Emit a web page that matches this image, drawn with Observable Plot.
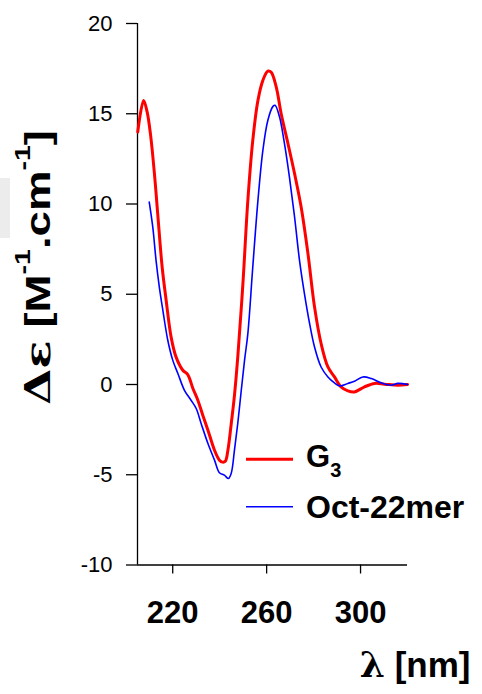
<!DOCTYPE html>
<html><head><meta charset="utf-8">
<script src="https://cdn.jsdelivr.net/npm/d3@7"></script>
<script src="https://cdn.jsdelivr.net/npm/@observablehq/plot@0.6"></script>
<style>body{margin:0;background:#fff} svg{display:block}</style>
</head><body><div id="chart"></div>
<script>
const seriesNames = ["G3", "Oct-22mer"];
const seriesColors = ["#ff0000", "#0000ff"];
const xTicks = [220, 260, 300];
const yTicks = [-10, -5, 0, 5, 10, 15, 20];

const g3Wavelength = [205.1,207.6,209.1,210.5,212.2,213.6,215.5,217.2,219.3,221.4,224.3,226.4,228.6,230.7,232.8,235.0,237.8,239.9,241.2,242.4,243.5,244.9,246.3,247.7,249.9,252.0,254.1,256.3,258.4,260.5,261.9,264.1,266.2,269.1,271.9,274.7,277.6,280.4,283.2,286.1,288.9,291.7,294.6,297.4,301.7,306.0,310.2,315.9,320.0];
const g3Delta = [13.99,15.74,15.1,13.9,11.7,9.47,6.51,4.67,2.64,1.53,0.79,0.55,-0.22,-0.87,-1.7,-2.53,-3.64,-4.19,-4.3,-4.25,-3.64,-2.2,-0.6,1.5,5.59,10.2,13.53,15.74,16.85,17.36,17.31,16.48,15.0,13.34,11.68,9.83,7.25,4.30,2.27,0.97,0.42,-0.13,-0.35,-0.41,-0.13,0.06,0.02,-0.04,0.0];

const octWavelength = [210.0,211.5,212.9,214.3,215.8,217.9,220.0,222.2,225.0,227.8,230.0,232.1,235.0,237.8,239.9,242.0,243.7,244.9,246.3,247.7,249.2,250.6,252.0,254.1,256.3,258.4,260.5,262.7,263.6,265.5,267.6,269.7,271.9,274.0,276.1,278.3,280.4,283.2,286.1,288.9,291.0,294.6,297.4,301.0,304.6,308.8,313.1,315.9,320.0];
const octDelta = [10.11,8.73,6.88,5.40,4.11,2.45,1.35,0.61,-0.32,-0.87,-1.33,-2.16,-3.27,-4.19,-4.89,-5.02,-5.21,-4.93,-3.64,-2.16,-0.32,1.35,2.82,6.51,10.2,12.97,14.63,15.41,15.47,14.82,13.34,11.5,9.28,6.88,5.04,3.38,2.08,0.97,0.42,0.09,-0.08,0.06,0.18,0.42,0.33,0.09,-0.04,0.06,0.0];

const g3Data = g3Wavelength.map((w, i) => ({series: seriesNames[0], wl: w, de: g3Delta[i]}));
const octData = octWavelength.map((w, i) => ({series: seriesNames[1], wl: w, de: octDelta[i]}));

const FONT = "'Liberation Sans', Arial, Helvetica, sans-serif";
const GREEK = "'DejaVu Serif', 'Liberation Serif', serif";

const svgNode = Plot.plot({
  width: 482, height: 694,
  marginLeft: 137, marginRight: 75, marginTop: 23, marginBottom: 129.5,
  style: {fontFamily: FONT, background: "#fff", overflow: "visible", color: "#000"},
  x: {domain: [205, 320], label: null},
  y: {domain: [-10, 20], label: null},
  color: {domain: seriesNames, range: seriesColors},
  marks: [
    Plot.axisY({ticks: yTicks, tickSize: 11, tickPadding: 14, fontSize: 22, tickFormat: d => String(d), label: null, strokeWidth: 1.3}),
    Plot.axisX({ticks: xTicks, tickSize: 9, tickPadding: 26.5, fontSize: 31, fontWeight: "bold", tickFormat: d => String(d), label: null, strokeWidth: 1.3}),
    Plot.ruleX([205], {strokeWidth: 1.3}),
    Plot.ruleY([-10], {strokeWidth: 1.3}),
    Plot.line(g3Data, {x: "wl", y: "de", stroke: "series", strokeWidth: 3, curve: "catmull-rom"}),
    Plot.line(octData, {x: "wl", y: "de", stroke: "series", strokeWidth: 1.6, curve: "catmull-rom"})
  ]
});
document.getElementById("chart").appendChild(svgNode);

const svg = d3.select(svgNode);

// faint grey artifact at the left edge
svg.insert("rect", ":first-child").attr("x", 0).attr("y", 178).attr("width", 10).attr("height", 60).attr("fill", "#ececec");

// Y label
const yl = svg.append("text")
  .attr("transform", "translate(50,267.5) rotate(-90)")
  .attr("text-anchor", "middle")
  .attr("font-family", FONT).attr("font-weight", "bold").attr("font-size", 35)
  .attr("textLength", 275).attr("lengthAdjust", "spacingAndGlyphs");
yl.append("tspan").attr("font-family", GREEK).attr("font-style", "normal").attr("font-size", 36).text("Δε");
yl.append("tspan").text(" [M");
yl.append("tspan").attr("dy", -20).attr("font-size", 22).text("-1");
yl.append("tspan").attr("dy", 20).text(".cm");
yl.append("tspan").attr("dy", -20).attr("font-size", 22).text("-1");
yl.append("tspan").attr("dy", 20).text("]");

// X label
const xl = svg.append("text")
  .attr("x", 470.5).attr("y", 677).attr("text-anchor", "end")
  .attr("font-family", FONT).attr("font-weight", "bold").attr("font-size", 35);
xl.append("tspan").attr("font-family", GREEK).attr("font-size", 36).text("λ");
xl.append("tspan").text(" [nm]");

// Legend
const legendY = [459.3, 506.7];
const legendW = [3, 1.6];
seriesNames.forEach((name, i) => {
  svg.append("line").attr("x1", 246).attr("x2", 293).attr("y1", legendY[i]).attr("y2", legendY[i])
    .attr("stroke", seriesColors[i]).attr("stroke-width", legendW[i]);
});
const t1 = svg.append("text").attr("x", 306).attr("y", 467).attr("text-anchor", "start")
  .attr("font-family", FONT).attr("font-weight", "bold").attr("font-size", 31);
t1.append("tspan").text("G");
t1.append("tspan").attr("dy", 10).attr("font-size", 20).text("3");
svg.append("text").attr("x", 306).attr("y", 518.3).attr("text-anchor", "start")
  .attr("font-family", FONT).attr("font-weight", "bold").attr("font-size", 32)
  .text(seriesNames[1]);
</script>
</body></html>
